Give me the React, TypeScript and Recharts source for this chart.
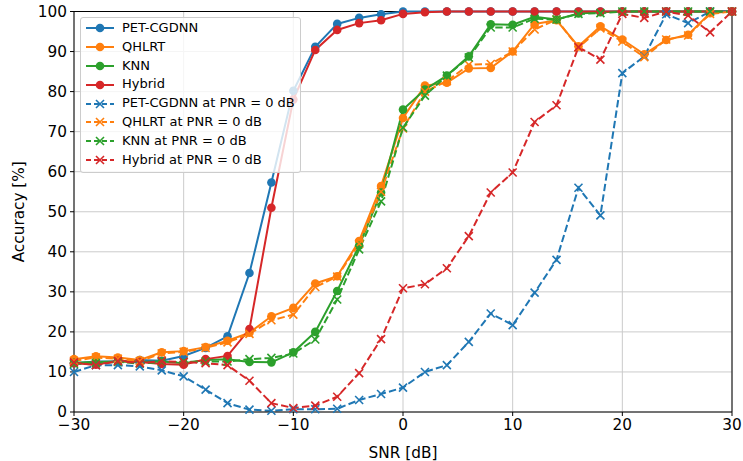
import React from "react";
import { LineChart, Line, XAxis, YAxis, CartesianGrid, ReferenceLine } from "recharts";

const snr = [-30, -28, -26, -24, -22, -20, -18, -16, -14, -12, -10, -8, -6, -4, -2, 0, 2, 4, 6, 8, 10, 12, 14, 16, 18, 20, 22, 24, 26, 28, 30];

const petCgdnn = [12.2, 12.6, 12.6, 13, 12.8, 14, 16, 18.9, 34.7, 57.3, 80.2, 91.2, 96.9, 98.4, 99.3, 100, 100, 100, 100, 100, 100, 100, 100, 100, 100, 100, 100, 100, 100, 100, 100];
const qhlrt = [13.2, 13.9, 13.6, 13, 14.9, 15.2, 16.2, 17.8, 19.8, 23.9, 26, 32.1, 33.9, 42.7, 56.4, 73.4, 81.5, 82.2, 85.8, 85.9, 90, 96.9, 97.8, 91.3, 96.3, 93, 89.3, 92.9, 94.2, 99.6, 100];
const knn = [12.3, 12.5, 12.6, 12.5, 12.6, 12.2, 13, 13.2, 12.5, 12.4, 14.9, 20, 30.2, 41.5, 54.8, 75.5, 80.5, 84, 88.8, 96.8, 96.7, 98.7, 98, 99.5, 99.8, 100, 100, 100, 100, 100, 100];
const hybrid = [12.2, 11.8, 12.8, 12.5, 12, 11.8, 13.2, 14, 20.7, 51, 78, 90.4, 95.4, 97.1, 97.8, 99.4, 99.8, 100, 100, 100, 100, 100, 100, 100, 100, 100, 100, 100, 100, 100, 100];
const petCgdnnPnr = [10, 11.7, 11.7, 11.4, 10.4, 8.9, 5.6, 2.2, 0.6, 0.3, 0.7, 0.7, 0.8, 3, 4.5, 6.1, 10, 11.7, 17.5, 24.6, 21.7, 29.8, 38, 56, 49.1, 84.6, 88.8, 99.3, 97.1, 100, 100];
const qhlrtPnr = [12.8, 13.6, 13.3, 12.7, 14.6, 15, 16, 17.4, 19.5, 22.9, 24.3, 31.2, 33.8, 42, 55, 70.8, 80, 82.6, 86.7, 86.9, 90, 95.5, 98, 91, 95.8, 92.5, 88.6, 93, 94, 99.4, 100];
const knnPnr = [12, 12.2, 12.5, 12.1, 12.5, 12.5, 12.6, 12.6, 13.2, 13.5, 14.6, 18.1, 28.1, 40.6, 52.6, 71, 79, 84, 88.5, 96, 96, 98.2, 98, 99.4, 99.6, 100, 100, 100, 100, 100, 100];
const hybridPnr = [12.4, 11.7, 12.7, 12.2, 12.7, 12.5, 12.2, 11.7, 7.8, 2.2, 1, 1.6, 3.8, 9.7, 18.2, 30.9, 31.9, 35.9, 43.9, 54.8, 59.8, 72.4, 76.6, 91.1, 88, 99.4, 98.4, 100, 99, 94.8, 100];

const xTicks = [-30, -20, -10, 0, 10, 20, 30];
const yTicks = [0, 10, 20, 30, 40, 50, 60, 70, 80, 90, 100];

const seriesNames = ["PET-CGDNN", "QHLRT", "KNN", "Hybrid", "PET-CGDNN at PNR = 0 dB", "QHLRT at PNR = 0 dB", "KNN at PNR = 0 dB", "Hybrid at PNR = 0 dB"];
const seriesValues = [petCgdnn, qhlrt, knn, hybrid, petCgdnnPnr, qhlrtPnr, knnPnr, hybridPnr];
const COLORS = ["#1f77b4", "#ff7f0e", "#2ca02c", "#d62728"];

const data = snr.map((s, i) => {
  const row: Record<string, number> = { snr: s };
  seriesValues.forEach((vals, k) => {
    row["s" + k] = vals[i];
  });
  return row;
});

const FONT = "'DejaVu Sans', sans-serif";
const DASH = "7.4 3.2";

const minus = (v: number) => String(v).replace("-", "\u2212");

const Cross = (props: any) => {
  const { cx, cy, stroke, index } = props;
  if (cx == null || cy == null) return <g key={index} />;
  const r = 4;
  return (
    <path
      key={index}
      d={`M${cx - r},${cy - r}L${cx + r},${cy + r}M${cx - r},${cy + r}L${cx + r},${cy - r}`}
      stroke={stroke}
      strokeWidth={1.6}
      fill="none"
    />
  );
};

const LegendBox = () => (
  <div
    style={{
      position: "absolute",
      left: 80,
      top: 17,
      background: "rgba(255,255,255,0.8)",
      border: "1px solid #cccccc",
      borderRadius: 3,
      padding: "1px 5px 3px 4px",
      fontFamily: FONT,
      fontSize: 13,
      lineHeight: "18.8px",
      color: "#000",
    }}
  >
    {seriesNames.map((name, k) => {
      const color = COLORS[k % 4];
      const dashed = k >= 4;
      return (
        <div key={name} style={{ display: "flex", alignItems: "center", whiteSpace: "nowrap" }}>
          <svg width={32} height={12} style={{ marginRight: 5 }}>
            <line x1={1} y1={6} x2={29} y2={6} stroke={color} strokeWidth={2} strokeDasharray={dashed ? "5 3" : undefined} />
            {dashed ? (
              <path d="M11,2L19,10M11,10L19,2" stroke={color} strokeWidth={1.6} />
            ) : (
              <circle cx={15} cy={6} r={4.3} fill={color} />
            )}
          </svg>
          <span>{name}</span>
        </div>
      );
    })}
  </div>
);

export default function App() {
  return (
    <div style={{ position: "absolute", left: 0, top: 0, width: 743, height: 461, background: "#fff" }}>
      <LineChart width={743} height={461} data={data} margin={{ top: 11.5, right: 11, left: 0, bottom: 0 }}>
        <CartesianGrid stroke="#cbcbcb" strokeWidth={1} />
        <XAxis
          dataKey="snr"
          type="number"
          domain={[-30, 30]}
          ticks={xTicks}
          tickFormatter={minus}
          height={49}
          tickSize={4}
          tickMargin={3}
          stroke="#000"
          tick={{ fill: "#000", fontSize: 15.3, fontFamily: FONT }}
          label={{ value: "SNR [dB]", position: "insideBottom", offset: 3, fill: "#000", fontSize: 15.3, fontFamily: FONT }}
        />
        <YAxis
          type="number"
          domain={[0, 100]}
          ticks={yTicks}
          width={74}
          tickSize={4}
          tickMargin={3}
          stroke="#000"
          tick={{ fill: "#000", fontSize: 15.3, fontFamily: FONT }}
          label={{ value: "Accuracy [%]", angle: -90, position: "insideLeft", offset: 19, fill: "#000", fontSize: 15.3, fontFamily: FONT, style: { textAnchor: "middle" } }}
        />
        <ReferenceLine y={100} stroke="#000" strokeWidth={1} />
        <ReferenceLine x={30} stroke="#000" strokeWidth={1} />
        {seriesValues.map((_, k) => {
          const color = COLORS[k % 4];
          const dashed = k >= 4;
          return (
            <Line
              key={k}
              dataKey={"s" + k}
              name={seriesNames[k]}
              stroke={color}
              strokeWidth={2}
              strokeDasharray={dashed ? DASH : undefined}
              dot={dashed ? (p: any) => <Cross {...p} key={p.index} /> : { r: 4.3, fill: color, stroke: color, strokeWidth: 0 }}
              activeDot={false}
              isAnimationActive={false}
            />
          );
        })}
      </LineChart>
      <LegendBox />
    </div>
  );
}
